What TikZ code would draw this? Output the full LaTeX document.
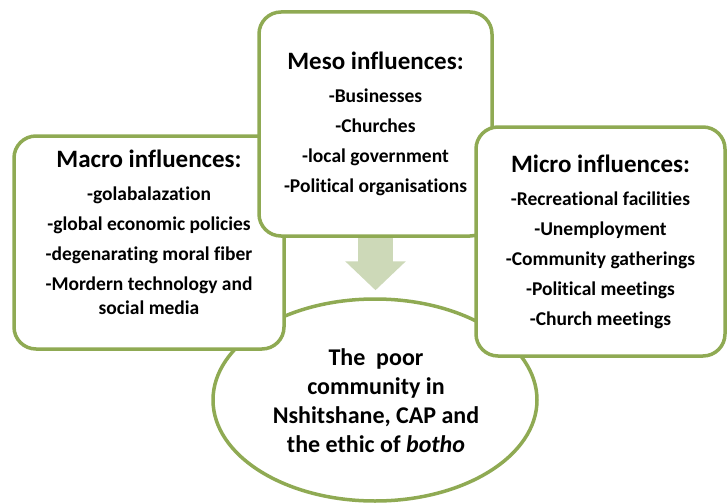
\documentclass[tikz,border=0pt]{standalone}
\usepackage{fontspec}
\setmainfont{Carlito}[Ligatures=NoCommon]
\usetikzlibrary{shapes.geometric,arrows.meta}
\definecolor{olivegreen}{RGB}{143,170,83}
\definecolor{palegreen}{RGB}{205,217,184}
\begin{document}
\begin{tikzpicture}[x=1pt,y=-1pt,
    box/.style={draw=olivegreen, line width=3.5pt, fill=white, rounded corners=22pt, inner sep=0pt},
    ring/.style={draw=olivegreen, line width=3.5pt, fill=white, ellipse, inner sep=0pt},
    items/.style={align=center, inner sep=0pt, font=\fontsize{19.5}{24}\selectfont\bfseries}]
    \useasboundingbox (0,0) rectangle (728,503);
    \node[ring, minimum width=324pt, minimum height=202pt] (hub) at (375,400) {};
    \node[items, font=\fontsize{24}{29}\selectfont\bfseries] (hubtext) at (376,401) {The\ \ poor\\community in\\Nshitshane, CAP and\\the ethic of \textit{botho}};
    \node[box, minimum width=270pt, minimum height=213pt] (macro) at (149,242.5) {};
    \node[items] (macrotext) at ([yshift=10pt]macro.center) {{\fontsize{25}{24}\selectfont Macro influences:}\\[9pt]
        -golabalazation\\[6pt]-global economic policies\\[6pt]-degenarating moral fiber\\[6pt]-Mordern technology and\\social media};
    \node[box, minimum width=233pt, minimum height=224pt] (meso) at (375.5,124) {};
    \node[items] (mesotext) at (meso.center) {{\fontsize{25}{24}\selectfont Meso influences:}\\[9pt]
        -Businesses\\[6pt]-Churches\\[6pt]-local government\\[6pt]-Political organisations};
    \node[box, minimum width=249pt, minimum height=229pt] (micro) at (600.5,241.5) {};
    \node[items] (microtext) at (micro.center) {{\fontsize{25}{24}\selectfont Micro influences:}\\[9pt]
        -Recreational facilities\\[6pt]-Unemployment\\[6pt]-Community gatherings\\[6pt]-Political meetings\\[6pt]-Church meetings};
    \draw[palegreen, line width=35pt, -{Triangle[width=59pt,length=29pt]}, shorten >=7pt] (meso.south) -- (meso.south |- hub.north);
\end{tikzpicture}
\end{document}
